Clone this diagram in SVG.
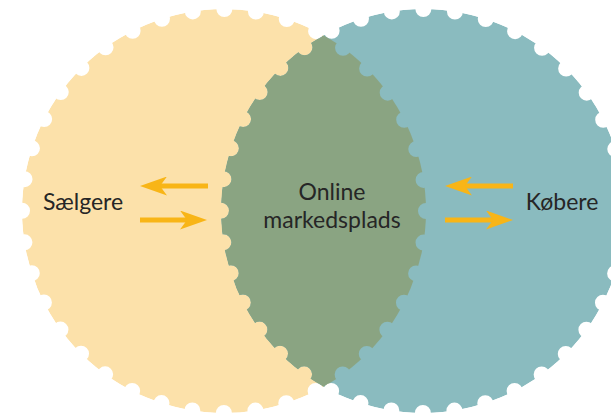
<svg xmlns="http://www.w3.org/2000/svg" width="611" height="419" viewBox="0 0 611 419">
  <style>
    .lbl { font-family: Lato, "Open Sans", "DejaVu Sans", sans-serif; font-size: 23px; fill: #262626; text-anchor: middle; }
    .arrow { stroke: #F8B517; stroke-width: 5; fill: none; marker-end: url(#head); }
  </style>
  <defs>
    <marker id="head" viewBox="0 0 27 19" refX="7" refY="9.5" markerWidth="27" markerHeight="19" markerUnits="userSpaceOnUse" orient="auto">
      <path d="M0,0 L27,9.5 L0,19 L7,9.5 Z" fill="#F8B517"/>
    </marker>
    <mask id="stampA" maskUnits="userSpaceOnUse" x="0" y="0" width="611" height="419">
      <circle cx="224" cy="211" r="202" fill="#fff"/>
      <circle cx="224" cy="211" r="202" fill="none" stroke="#000" stroke-width="16" stroke-linecap="round" stroke-dasharray="0 31.730"/>
    </mask>
    <mask id="stampB" maskUnits="userSpaceOnUse" x="0" y="0" width="611" height="419">
      <circle cx="423" cy="211" r="202" fill="#fff"/>
      <circle cx="423" cy="211" r="202" fill="none" stroke="#000" stroke-width="16" stroke-linecap="round" stroke-dasharray="0 31.730"/>
    </mask>
  </defs>
  <rect width="611" height="419" fill="#fff"/>

  <g id="seller-circle">
    <circle cx="224" cy="211" r="202" fill="#FCE1AA" mask="url(#stampA)"/>
  </g>
  <g id="buyer-circle">
    <circle cx="423" cy="211" r="202" fill="#8ABBBF" mask="url(#stampB)"/>
  </g>
  <g id="overlap" mask="url(#stampA)">
    <circle cx="423" cy="211" r="202" fill="#8AA482" mask="url(#stampB)"/>
  </g>

  <g id="node-saelgere">
    <text class="lbl" x="83" y="210">Sælgere</text>
  </g>
  <g id="node-online-markedsplads">
    <text class="lbl" x="332" y="200">Online</text>
    <text class="lbl" x="332" y="228">markedsplads</text>
  </g>
  <g id="node-kobere">
    <text class="lbl" x="562" y="210">Købere</text>
  </g>

  <g id="connectors">
    <line class="arrow" x1="208" y1="186" x2="160" y2="186"/>
    <line class="arrow" x1="140" y1="220" x2="187" y2="220"/>
    <line class="arrow" x1="513" y1="186" x2="465" y2="186"/>
    <line class="arrow" x1="445" y1="220" x2="493" y2="220"/>
  </g>
</svg>
